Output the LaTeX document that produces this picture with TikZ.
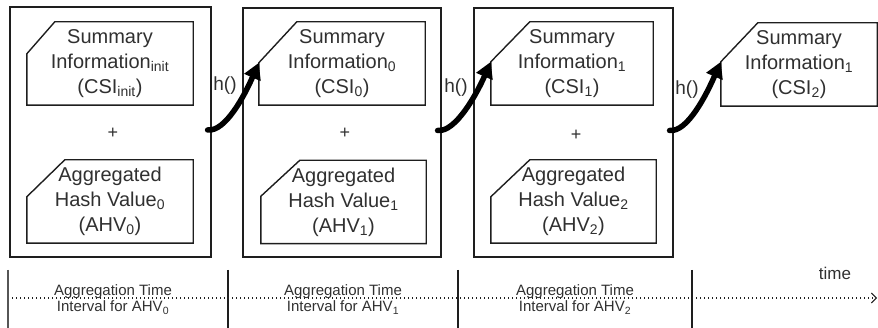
\documentclass[tikz,border=0pt]{standalone}
\usepackage{fontspec}
\setmainfont{Liberation Sans}
\usetikzlibrary{arrows.meta}
\definecolor{ink}{HTML}{1E1E1E}
\definecolor{txt}{HTML}{303030}

\tikzset{
  frame/.style={draw=ink, line width=1.2pt, inner sep=0pt},
  cardtext/.style={inner sep=0pt, minimum height=83pt, align=center,
    text=txt, font=\fontsize{20}{25}\selectfont},
  cardline/.style={draw=ink, line width=1.4pt, line join=miter},
  plus/.style={text=txt, font=\fontsize{18}{18}\selectfont},
  hlabel/.style={text=txt, font=\fontsize{19}{19}\selectfont, inner sep=0pt},
  hasharrow/.style={draw=black, line width=5.5pt, line cap=round,
    -{Triangle[length=16pt,width=17pt]}},
  tick/.style={draw=ink, line width=1.5pt},
  timeline/.style={draw=ink, line width=1.1pt, dash pattern=on 1.1pt off 2.9pt,
    -{Straight Barb[length=5pt,width=10pt,line width=0.9pt]}},
  ivlabel/.style={align=center, text=txt, inner sep=0pt,
    font=\fontsize{15}{16}\selectfont}
}

% card with its top-left corner cut off:
% #1 name, #2 centre, #3 width, #4 cut width, #5 cut height, #6 text
\newcommand\cutcard[6]{%
  \node[cardtext, minimum width=#3pt] (#1) at #2 {#6};
  \draw[cardline] (#1.south west) -- (#1.south east) -- (#1.north east)
    -- ([xshift=#4pt]#1.north west) -- ([yshift=-#5pt]#1.north west)
    coordinate (#1-cut) -- cycle;
}

\begin{document}
\begin{tikzpicture}[x=1pt, y=-1pt]
\useasboundingbox (0,0) rectangle (878,328);

% outer frames of the three aggregation rounds
\node[frame, minimum width=201pt, minimum height=250pt] (b1) at (110.5,132) {};
\node[frame, minimum width=198pt, minimum height=249pt] (b2) at (342,132.5) {};
\node[frame, minimum width=199pt, minimum height=249pt] (b3) at (573.5,132.5) {};

% summary information cards
\cutcard{c1t}{(110,63.5)}{166}{28}{32}{Summary\\Information\textsubscript{init}\\(CSI\textsubscript{init})}
\cutcard{c2t}{(342,63.5)}{166}{38}{41}{Summary\\Information\textsubscript{0}\\(CSI\textsubscript{0})}
\cutcard{c3t}{(572,63.5)}{162}{39}{40}{Summary\\Information\textsubscript{1}\\(CSI\textsubscript{1})}
\cutcard{c4}{(799,64.5)}{156}{37}{39}{Summary\\Information\textsubscript{1}\\(CSI\textsubscript{2})}

% aggregated hash value cards
\cutcard{c1b}{(110,201.5)}{166}{38}{37}{Aggregated\\Hash Value\textsubscript{0}\\(AHV\textsubscript{0})}
\cutcard{c2b}{(343.5,202)}{165}{39}{36}{Aggregated\\Hash Value\textsubscript{1}\\(AHV\textsubscript{1})}
\cutcard{c3b}{(573.5,201.5)}{165}{39}{37}{Aggregated\\Hash Value\textsubscript{2}\\(AHV\textsubscript{2})}

% plus signs
\node[plus] (p1) at (113,133) {+};
\node[plus] (p2) at (345,133) {+};
\node[plus] (p3) at (576,135) {+};

% hash function arrows
\draw[hasharrow] ([shift={(-4pt,2pt)}]b1.east) .. controls +(18,2) and +(-14,32) .. (c2t-cut);
\draw[hasharrow] ([shift={(-4pt,2pt)}]b2.east) .. controls +(18,2) and +(-14,32) .. (c3t-cut);
\draw[hasharrow] ([shift={(-4pt,2pt)}]b3.east) .. controls +(18,2) and +(-14,32) .. (c4-cut);
\node[hlabel] (h1) at (225,86) {h()};
\node[hlabel] (h2) at (456,88) {h()};
\node[hlabel] (h3) at (687,90) {h()};

% time axis
\coordinate (tstart) at (8,298);
\coordinate (tend) at (877,298);
\draw[timeline] (tstart) -- (tend);
\coordinate (k0a) at (8,270);   \coordinate (k0b) at (8,328);
\coordinate (k1a) at (228,270); \coordinate (k1b) at (228,328);
\coordinate (k2a) at (458,270); \coordinate (k2b) at (458,328);
\coordinate (k3a) at (692,270); \coordinate (k3b) at (692,328);
\draw[tick, line width=2.4pt, draw=ink!75] (k0a) -- (k0b);
\draw[tick] (k1a) -- (k1b);
\draw[tick] (k2a) -- (k2b);
\draw[tick] (k3a) -- (k3b);

\node[ivlabel] (iv0) at (113,299.5) {Aggregation Time\\Interval for AHV\textsubscript{0}};
\node[ivlabel] (iv1) at (343,299.5) {Aggregation Time\\Interval for AHV\textsubscript{1}};
\node[ivlabel] (iv2) at (575,299.5) {Aggregation Time\\Interval for AHV\textsubscript{2}};
\node[text=txt, font=\fontsize{17}{17}\selectfont, anchor=base] (tm) at (835,280) {time};
\end{tikzpicture}
\end{document}
